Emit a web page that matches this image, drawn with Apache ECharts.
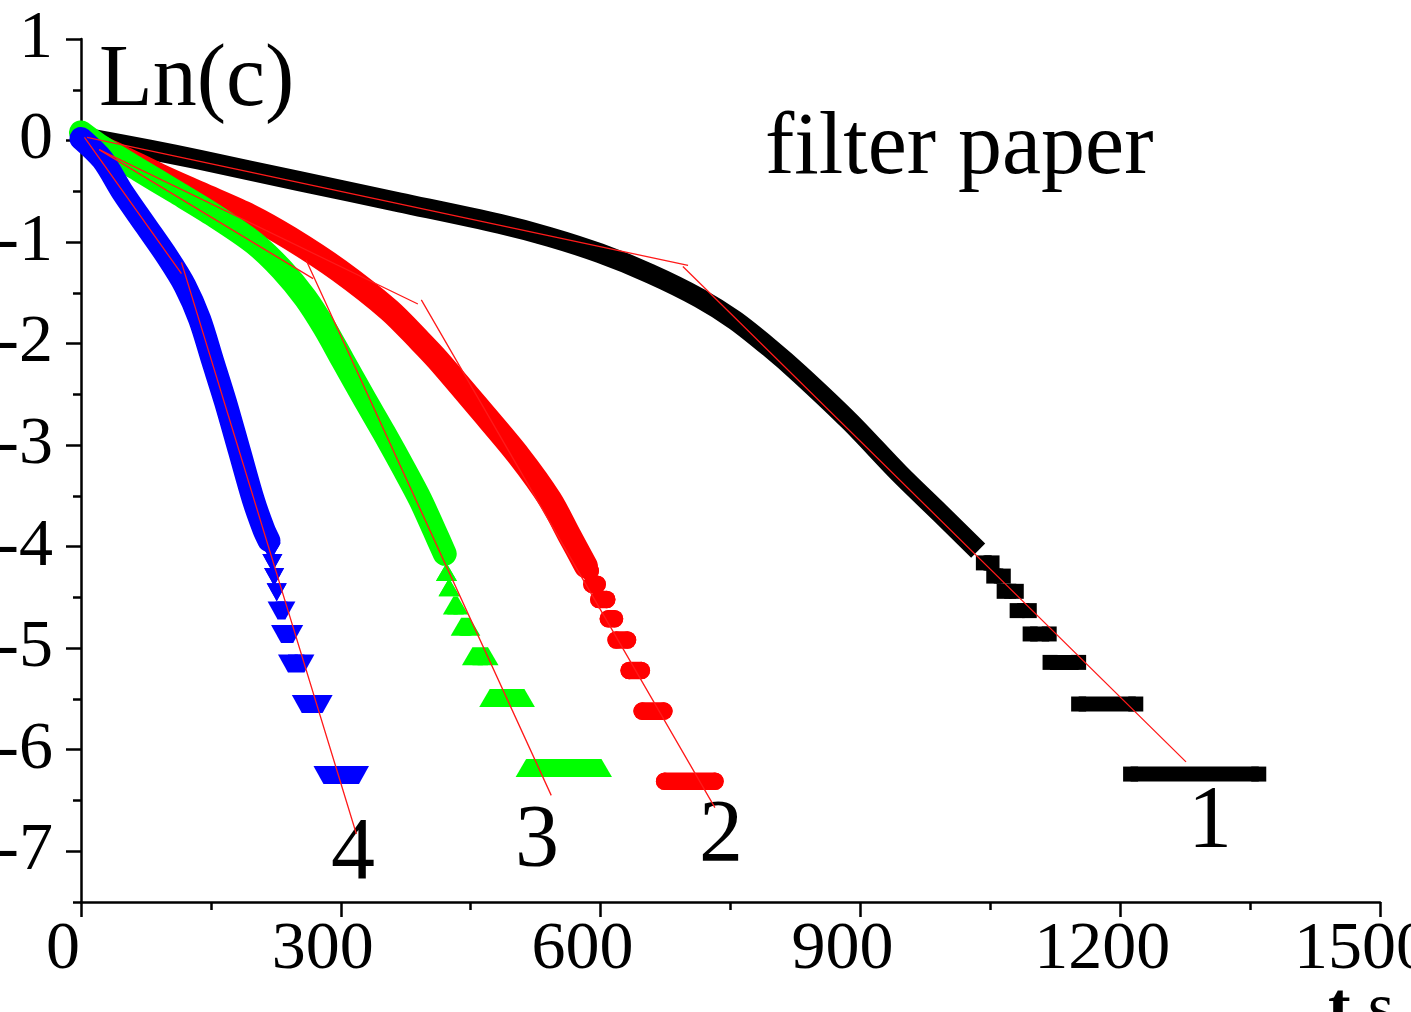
<!DOCTYPE html>
<html>
<head>
<meta charset="utf-8">
<script src="https://cdn.jsdelivr.net/npm/echarts@6/dist/echarts.min.js"></script>
<style>
html, body { margin: 0; padding: 0; background: #fff; }
#chart { width: 1411px; height: 1012px; }
</style>
</head>
<body>
<div id="chart"></div>
<script>
// t (s) and Ln(c)
// smooth (dense) part of each curve
const body1 = [[5, 0.03], [79, -0.09], [137, -0.19], [252, -0.40], [368, -0.61], [483, -0.82], [541, -0.95], [599, -1.11], [657, -1.31], [714, -1.55], [755, -1.77], [795, -2.04], [830, -2.30], [888, -2.77], [945, -3.28], [992, -3.67], [1036, -4.04]];
const body2 = [[5, 0.00], [44, -0.15], [90, -0.34], [137, -0.52], [195, -0.74], [241, -0.96], [298, -1.28], [356, -1.67], [391, -1.97], [412, -2.16], [460, -2.64], [506, -3.11], [542, -3.54], [564, -3.89], [583, -4.19]];
const body3 = [[0, 0.08], [21, -0.05], [67, -0.29], [108, -0.50], [154, -0.74], [200, -1.01], [232, -1.27], [259, -1.55], [281, -1.84], [302, -2.16], [327, -2.54], [350, -2.88], [374, -3.25], [392, -3.54], [408, -3.84], [420, -4.07]];
const body4 = [[0, 0.02], [25, -0.19], [48, -0.51], [74, -0.83], [100, -1.15], [120, -1.43], [137, -1.76], [152, -2.17], [167, -2.58], [183, -3.06], [199, -3.54], [211, -3.83], [217, -3.94]];

// quantized tail: [t start, t end, Ln(c)]
const tail1 = [[1042, 1052, -4.16], [1054, 1065, -4.29], [1066, 1080, -4.44], [1081, 1095, -4.63], [1096, 1118, -4.86], [1119, 1152, -5.14], [1152, 1218, -5.55], [1212, 1360, -6.24]];
const tail2 = [[586, 588, -4.24], [590, 596, -4.37], [598, 607, -4.52], [609, 616, -4.71], [618, 631, -4.92], [633, 647, -5.22], [648, 673, -5.62], [674, 732, -6.31]];
const tail3 = [[422, 422, -4.25], [425, 425, -4.40], [430, 435, -4.58], [439, 449, -4.79], [452, 470, -5.08], [472, 512, -5.49], [514, 601, -6.18]];
const tail4 = [[219, 219, -4.05], [221, 221, -4.16], [223, 223, -4.30], [226, 226, -4.45], [227, 236, -4.63], [231, 245, -4.86], [239, 258, -5.15], [255, 279, -5.55], [280, 321, -6.25]];

// two straight fit segments per curve
const fit1 = [[[7, 0.03], [701, -1.23]], [[695, -1.24], [1276, -6.12]]];
const fit2 = [[[21, -0.09], [389, -1.61]], [[393, -1.57], [732, -6.57]]];
const fit3 = [[[21, -0.09], [268, -1.36]], [[260, -1.18], [543, -6.45]]];
const fit4 = [[[4, 0.03], [116, -1.31]], [[116, -1.20], [318, -6.83]]];

const xTicks = [0, 300, 600, 900, 1200, 1500];
const yTicks = [-7, -6, -5, -4, -3, -2, -1, 0, 1];

const FONT = 'Liberation Serif';
const GAP = ['-', '-'];

function runs(list) {
    let out = [];
    list.forEach(function (r) {
        out.push([r[0], r[2]], [r[1], r[2]], GAP);
    });
    return out;
}
function segs(list) {
    let out = [];
    list.forEach(function (s) {
        out.push(s[0], s[1], GAP);
    });
    return out;
}

let myChart = echarts.init(document.getElementById('chart'));

function bodySeries(data, color, width, cap, z) {
    return {
        type: 'line', data: data, showSymbol: false, smooth: 0.3, silent: true, z: z,
        lineStyle: { color: color, width: width, cap: cap, join: 'round' }
    };
}
function tailSeries(data, color, symbol, size, width, cap, rotate, z) {
    return {
        type: 'line', data: runs(data), symbol: symbol, symbolSize: size, symbolRotate: rotate,
        showSymbol: true, showAllSymbol: true, silent: true, z: z,
        itemStyle: { color: color },
        lineStyle: { color: color, width: width, cap: cap }
    };
}
function fitSeries(data) {
    return {
        type: 'line', data: segs(data), showSymbol: false, silent: true, z: 10,
        lineStyle: { color: '#ff1a1a', width: 1.3 }
    };
}

const axisStyle = { color: '#000', width: 2.5 };

myChart.setOption({
    animation: false,
    backgroundColor: '#fff',
    grid: { left: 81, right: 31, top: 39, bottom: 110, outerBoundsMode: 'none' },
    xAxis: {
        type: 'value', min: 0, max: 1500, interval: 300,
        axisLine: { onZero: false, lineStyle: axisStyle },
        axisTick: { length: 15, lineStyle: axisStyle },
        minorTick: { show: true, splitNumber: 2, length: 8, lineStyle: axisStyle },
        splitLine: { show: false },
        axisLabel: {
            customValues: xTicks, margin: 14, padding: [0, 36, 0, 0],
            formatter: function (v) { return String(v); },
            color: '#000', fontFamily: FONT, fontSize: 68
        }
    },
    yAxis: [
        {
            type: 'value', min: -7.5, max: 1, interval: 0.5, position: 'left',
            axisLine: { show: true, onZero: false, lineStyle: axisStyle },
            axisTick: { show: true, length: 8, lineStyle: axisStyle },
            splitLine: { show: false },
            axisLabel: {
                customValues: yTicks, margin: 28,
                formatter: function (v) { return String(v); },
                color: '#000', fontFamily: FONT, fontSize: 68
            }
        },
        {
            type: 'value', min: -7.5, max: 1, position: 'left', offset: 0,
            axisLine: { show: false, onZero: false },
            axisTick: { show: true, length: 15, customValues: yTicks, lineStyle: axisStyle },
            splitLine: { show: false },
            axisLabel: { show: false }
        }
    ],
    series: [
        bodySeries(body1, '#000000', 20, 'butt', 2),
        tailSeries(tail1, '#000000', 'rect', [15, 15], 15, 'butt', 0, 2),
        bodySeries(body2, '#ff0000', 24, 'round', 3),
        tailSeries(tail2, '#ff0000', 'circle', 17.6, 17.6, 'round', 0, 3),
        bodySeries(body3, '#00ff00', 24, 'round', 4),
        tailSeries(tail3, '#00ff00', 'triangle', [21, 18], 18, 'butt', 0, 4),
        bodySeries(body4, '#0000ff', 23, 'round', 5),
        tailSeries(tail4, '#0000ff', 'triangle', [20, 18], 18, 'butt', 180, 5),
        fitSeries(fit1),
        fitSeries(fit2),
        fitSeries(fit3),
        fitSeries(fit4)
    ],
    graphic: [
        { type: 'text', x: 99, y: 82, style: { text: 'Ln(c)', font: '88px "Liberation Serif"', fill: '#000', verticalAlign: 'middle' } },
        { type: 'text', x: 765, y: 150, style: { text: 'filter paper', font: '88px "Liberation Serif"', fill: '#000', verticalAlign: 'middle' } },
        { type: 'text', x: 1210, y: 823, style: { text: '1', font: '88px "Liberation Serif"', fill: '#000', align: 'center', verticalAlign: 'middle' } },
        { type: 'text', x: 721, y: 837, style: { text: '2', font: '88px "Liberation Serif"', fill: '#000', align: 'center', verticalAlign: 'middle' } },
        { type: 'text', x: 537, y: 842, style: { text: '3', font: '88px "Liberation Serif"', fill: '#000', align: 'center', verticalAlign: 'middle' } },
        { type: 'text', x: 353, y: 855, style: { text: '4', font: '88px "Liberation Serif"', fill: '#000', align: 'center', verticalAlign: 'middle' } },
        { type: 'text', x: 1328, y: 1011, style: { text: '{b|t},s', font: '68px "Liberation Serif"', fill: '#000', verticalAlign: 'middle',
            rich: { b: { fontWeight: 'bold', fontFamily: FONT, fontSize: 68 } } } }
    ]
});

window.addEventListener('resize', function () {
    myChart.resize();
});
</script>
</body>
</html>
